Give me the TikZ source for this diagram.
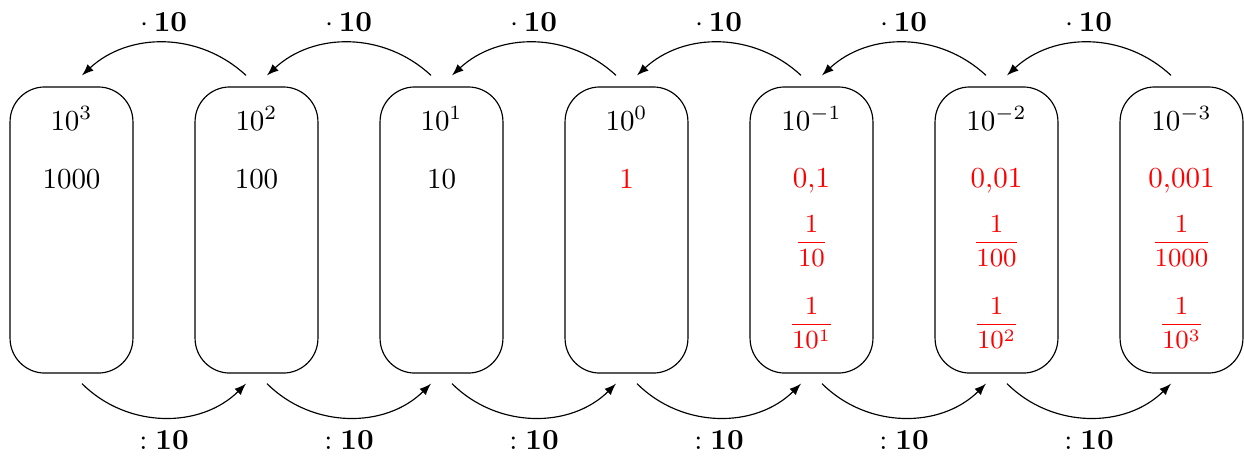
\documentclass[tikz,border=0pt]{standalone}
\usepackage{amsmath}
\usetikzlibrary{calc}

\tikzset{every picture/.style={line width=0.4pt}}
\tikzset{
  powbox/.style={draw,rounded corners=12pt,minimum width=42.4pt,minimum height=98.7pt,inner sep=0pt},
  arr/.style={-latex,line width=0.4pt},
  txt/.style={anchor=base,inner sep=0pt},
  red txt/.style={txt,text=red},
  frac txt/.style={red txt,font=\fontsize{8.6}{10}\selectfont}
}

\begin{document}
\begin{tikzpicture}[x=0.345pt,y=0.345pt,yscale=-1,xscale=1]
    \path[use as bounding box] (0,0) rectangle (1244,457);

    %Rounded Rect
    \node[powbox] (b1) at (71.5,230) {};
    %Rounded Rect
    \node[powbox] (b2) at (256.5,230) {};
    %Rounded Rect
    \node[powbox] (b3) at (441.5,230) {};
    %Rounded Rect
    \node[powbox] (b4) at (626.5,230) {};
    %Rounded Rect
    \node[powbox] (b5) at (811.5,230) {};
    %Rounded Rect
    \node[powbox] (b6) at (996.5,230) {};
    %Rounded Rect
    \node[powbox] (b7) at (1181.5,230) {};

    %Curved Arrows (top)
    \draw[arr] ($(b2.north)+(-10.5,-11)$) to[bend left=43] ($(b1.north)+(10.5,-11)$);
    \draw[arr] ($(b3.north)+(-10.5,-11)$) to[bend left=43] ($(b2.north)+(10.5,-11)$);
    \draw[arr] ($(b4.north)+(-10.5,-11)$) to[bend left=43] ($(b3.north)+(10.5,-11)$);
    \draw[arr] ($(b5.north)+(-10.5,-11)$) to[bend left=43] ($(b4.north)+(10.5,-11)$);
    \draw[arr] ($(b6.north)+(-10.5,-11)$) to[bend left=43] ($(b5.north)+(10.5,-11)$);
    \draw[arr] ($(b7.north)+(-10.5,-11)$) to[bend left=43] ($(b6.north)+(10.5,-11)$);
    %Curved Arrows (bottom)
    \draw[arr] ($(b1.south)+(10.5,10)$) to[bend left=45] ($(b2.south)+(-10.5,10)$);
    \draw[arr] ($(b2.south)+(10.5,10)$) to[bend left=45] ($(b3.south)+(-10.5,10)$);
    \draw[arr] ($(b3.south)+(10.5,10)$) to[bend left=45] ($(b4.south)+(-10.5,10)$);
    \draw[arr] ($(b4.south)+(10.5,10)$) to[bend left=45] ($(b5.south)+(-10.5,10)$);
    \draw[arr] ($(b5.south)+(10.5,10)$) to[bend left=45] ($(b6.south)+(-10.5,10)$);
    \draw[arr] ($(b6.south)+(10.5,10)$) to[bend left=45] ($(b7.south)+(-10.5,10)$);

    % Text Node
    \node (m1) at (164,22) {$\cdot\,\mathbf{10}$};
    \node (m2) at (349,22) {$\cdot\,\mathbf{10}$};
    \node (m3) at (534,22) {$\cdot\,\mathbf{10}$};
    \node (m4) at (719,22) {$\cdot\,\mathbf{10}$};
    \node (m5) at (904,22) {$\cdot\,\mathbf{10}$};
    \node (m6) at (1089,22) {$\cdot\,\mathbf{10}$};
    % Text Node
    \node (d1) at (164,440) {$:\mathbf{10}$};
    \node (d2) at (349,440) {$:\mathbf{10}$};
    \node (d3) at (534,440) {$:\mathbf{10}$};
    \node (d4) at (719,440) {$:\mathbf{10}$};
    \node (d5) at (904,440) {$:\mathbf{10}$};
    \node (d6) at (1089,440) {$:\mathbf{10}$};

    % Text Node
    \node[txt] (p1) at (71.5,130) {$10^3$};
    \node[txt] (v1) at (71.5,188) {$1000$};
    % Text Node
    \node[txt] (p2) at (256.5,130) {$10^2$};
    \node[txt] (v2) at (256.5,188) {$100$};
    % Text Node
    \node[txt] (p3) at (441.5,130) {$10^1$};
    \node[txt] (v3) at (441.5,188) {$10$};
    % Text Node
    \node[txt] (p4) at (626.5,130) {$10^0$};
    \node[red txt] (v4) at (626.5,188) {$1$};
    % Text Node
    \node[txt] (p5) at (811.5,130) {$10^{-1}$};
    \node[red txt] (v5) at (811.5,187) {$0{,}1$};
    \node[frac txt] (f5) at (811.5,249) {$\dfrac{1}{10}$};
    \node[frac txt] (g5) at (811.5,331) {$\dfrac{1}{10^1}$};
    % Text Node
    \node[txt] (p6) at (996.5,130) {$10^{-2}$};
    \node[red txt] (v6) at (996.5,187) {$0{,}01$};
    \node[frac txt] (f6) at (996.5,249) {$\dfrac{1}{100}$};
    \node[frac txt] (g6) at (996.5,331) {$\dfrac{1}{10^2}$};
    % Text Node
    \node[txt] (p7) at (1181.5,130) {$10^{-3}$};
    \node[red txt] (v7) at (1181.5,187) {$0{,}001$};
    \node[frac txt] (f7) at (1181.5,249) {$\dfrac{1}{1000}$};
    \node[frac txt] (g7) at (1181.5,331) {$\dfrac{1}{10^3}$};

\end{tikzpicture}
\end{document}
